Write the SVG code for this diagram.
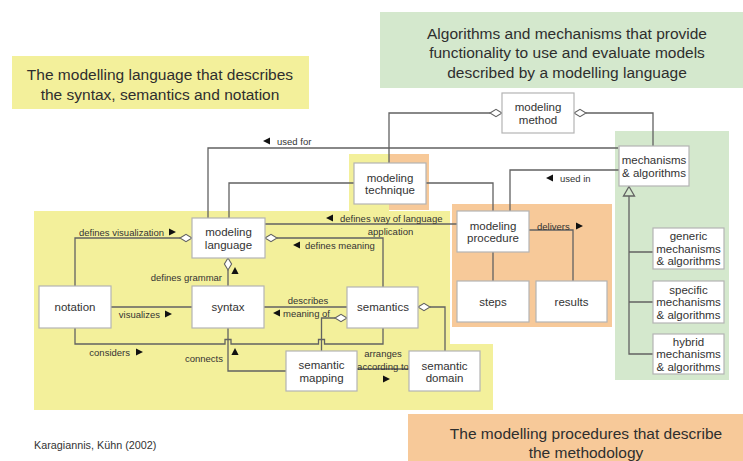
<svg xmlns="http://www.w3.org/2000/svg" xmlns:xlink="http://www.w3.org/1999/xlink" width="743" height="461" viewBox="0 0 743 461">
<style>
.hd{font-family:"Liberation Sans",Arial,sans-serif;font-size:15.5px;fill:#2e2e2e;text-anchor:middle}
.nd rect{fill:#fff;stroke:#b4b4b4;stroke-width:1.2}
.nd text{font-family:"Liberation Sans",Arial,sans-serif;font-size:11.5px;fill:#333;text-anchor:middle}
.lb{font-family:"Liberation Sans",Arial,sans-serif;font-size:9.5px;fill:#333}
.cn path,.cn line{fill:none;stroke:#626262;stroke-width:1.3}
.cn .dia{fill:#fff;stroke:#626262;stroke-width:1.1}
.tri{fill:#111}
.gen{fill:#fff;stroke:#626262;stroke-width:1.1}
</style>
<defs>
<path id="dia" d="M0,0 L6,-3.6 L12,0 L6,3.6Z"/>
<path id="tr" d="M0,-3.6 L7,0 L0,3.6Z"/>
</defs>
<rect width="743" height="461" fill="#fff"/>
<!-- background regions -->
<rect x="12" y="56" width="297" height="53" fill="#f3f09b"/>
<rect x="380" y="12" width="363" height="76" fill="#d4e8cd"/>
<rect x="408" y="414" width="335" height="47" fill="#f7c999"/>
<rect x="615" y="131" width="114" height="249" fill="#d4e8cd"/>
<polygon points="34,211 349,211 349,154 389,154 389,211 450,211 450,344 493,344 493,410 34,410" fill="#f3f09b"/>
<rect x="389" y="154" width="40" height="56" fill="#f7c999"/>
<rect x="452" y="204" width="160" height="123" fill="#f7c999"/>
<!-- headings -->
<text class="hd" x="160" y="79.5">The modelling language that describes</text>
<text class="hd" x="160" y="99.5">the syntax, semantics and notation</text>
<text class="hd" x="567" y="38.5">Algorithms and mechanisms that provide</text>
<text class="hd" x="567" y="58">functionality to use and evaluate models</text>
<text class="hd" x="567" y="77.5">described by a modelling language</text>
<text class="hd" x="586" y="438.5">The modelling procedures that describe</text>
<text class="hd" x="586" y="457.5">the methodology</text>
<text x="34" y="449" style="font-family:'Liberation Sans',Arial,sans-serif;font-size:10.8px;fill:#333">Karagiannis, Kühn (2002)</text>
<!-- connectors -->
<g id="connectors" class="cn">
<path d="M618,148 H208 V218"/>
<path d="M490,113 H389 V163"/>
<path d="M586,113 H653 V146"/>
<path d="M354,183 H229 V218"/>
<path d="M426,183 H493 V211"/>
<path d="M619,170 H510 V211"/>
<path d="M265,224 H457"/>
<path d="M277,238 H383 V287"/>
<path d="M180,238 H75 V286"/>
<path d="M228,270 V286"/>
<path d="M111,307 H192"/>
<path d="M264,307 H347"/>
<path d="M75,328 V344 H225 V339.5 H231 V344 H318.5 V339.5 H324.5 V344 H383 V328"/>
<path d="M228,328 V371 H286"/>
<path d="M321.5,351 V318 H335"/>
<path d="M430,307 H445 V351"/>
<path d="M357,369 H409"/>
<path d="M493,252 V281"/>
<path d="M529,230 H573 V281"/>
<path d="M629,196 V354 H653 M629,252 H653 M629,302 H653"/>
<use href="#dia" class="dia" x="490" y="113"/>
<use href="#dia" class="dia" x="574" y="113"/>
<use href="#dia" class="dia" x="265" y="238"/>
<use href="#dia" class="dia" x="180" y="238"/>
<use href="#dia" class="dia" transform="translate(228,258) rotate(90)"/>
<use href="#dia" class="dia" x="335" y="318"/>
<use href="#dia" class="dia" x="418" y="307"/>
<path class="gen" d="M629,186.5 L634.5,196 L623.5,196Z"/>
<!-- labels -->
<text class="lb" x="277" y="144.5">used for</text>
<use href="#tr" class="tri" transform="translate(270,141) rotate(180)"/>
<text class="lb" x="560" y="181.5">used in</text>
<use href="#tr" class="tri" transform="translate(553,178) rotate(180)"/>
<text class="lb" x="340" y="221.5">defines way of language</text>
<use href="#tr" class="tri" transform="translate(333,218) rotate(180)"/>
<text class="lb" x="390.5" y="234.5" text-anchor="middle">application</text>
<text class="lb" x="305" y="248.5">defines meaning</text>
<use href="#tr" class="tri" transform="translate(300,245) rotate(180)"/>
<text class="lb" x="164" y="235.5" text-anchor="end">defines visualization</text>
<use href="#tr" class="tri" x="169" y="232"/>
<text class="lb" x="222" y="280.5" text-anchor="end">defines grammar</text>
<use href="#tr" class="tri" transform="translate(235,274) rotate(-90)"/>
<text class="lb" x="160" y="317.5" text-anchor="end">visualizes</text>
<use href="#tr" class="tri" x="165" y="314"/>
<text class="lb" x="308" y="303.5" text-anchor="middle">describes</text>
<text class="lb" x="283" y="316.5">meaning of</text>
<use href="#tr" class="tri" transform="translate(280,313) rotate(180)"/>
<text class="lb" x="130" y="355.5" text-anchor="end">considers</text>
<use href="#tr" class="tri" x="136" y="352"/>
<text class="lb" x="223" y="361.5" text-anchor="end">connects</text>
<use href="#tr" class="tri" transform="translate(235,355) rotate(-90)"/>
<text class="lb" x="383" y="357" text-anchor="middle">arranges</text>
<text class="lb" x="383" y="369.5" text-anchor="middle">according to</text>
<use href="#tr" class="tri" x="383" y="379"/>
<text class="lb" x="537" y="229.5">delivers</text>
<use href="#tr" class="tri" x="576" y="226"/>
</g>
<!-- nodes -->
<g id="modeling-method" class="nd"><rect x="502" y="93" width="72" height="40"/><text x="538" y="111">modeling</text><text x="538" y="123.5">method</text></g>
<g id="modeling-technique" class="nd"><rect x="354" y="163" width="72" height="41"/><text x="390" y="181.5">modeling</text><text x="390" y="194">technique</text></g>
<g id="mechanisms-algorithms" class="nd"><rect x="619" y="146" width="70" height="40"/><text x="654" y="164">mechanisms</text><text x="654" y="176.5">&amp; algorithms</text></g>
<g id="modeling-language" class="nd"><rect x="192" y="218" width="73" height="40"/><text x="228.5" y="236">modeling</text><text x="228.5" y="248.5">language</text></g>
<g id="notation" class="nd"><rect x="39" y="286" width="72" height="42"/><text x="75" y="311">notation</text></g>
<g id="syntax" class="nd"><rect x="192" y="286" width="72" height="42"/><text x="228" y="310.5">syntax</text></g>
<g id="semantics" class="nd"><rect x="347" y="287" width="71" height="41"/><text x="383" y="311">semantics</text></g>
<g id="semantic-mapping" class="nd"><rect x="286" y="351" width="71" height="40"/><text x="321.5" y="369">semantic</text><text x="321.5" y="381.5">mapping</text></g>
<g id="semantic-domain" class="nd"><rect x="409" y="351" width="71" height="40"/><text x="444.5" y="369.5">semantic</text><text x="444.5" y="382">domain</text></g>
<g id="modeling-procedure" class="nd"><rect x="457" y="211" width="72" height="41"/><text x="493" y="229.5">modeling</text><text x="493" y="242">procedure</text></g>
<g id="steps" class="nd"><rect x="457" y="281" width="72" height="41"/><text x="493" y="305.5">steps</text></g>
<g id="results" class="nd"><rect x="536" y="281" width="71" height="41"/><text x="571.5" y="305.5">results</text></g>
<g id="generic" class="nd"><rect x="653" y="228" width="71" height="41"/><text x="688.5" y="240">generic</text><text x="688.5" y="252.5">mechanisms</text><text x="688.5" y="265">&amp; algorithms</text></g>
<g id="specific" class="nd"><rect x="653" y="281" width="71" height="42"/><text x="688.5" y="293.5">specific</text><text x="688.5" y="306">mechanisms</text><text x="688.5" y="318.5">&amp; algorithms</text></g>
<g id="hybrid" class="nd"><rect x="653" y="334" width="71" height="40"/><text x="688.5" y="345.5">hybrid</text><text x="688.5" y="358">mechanisms</text><text x="688.5" y="370.5">&amp; algorithms</text></g>
</svg>
